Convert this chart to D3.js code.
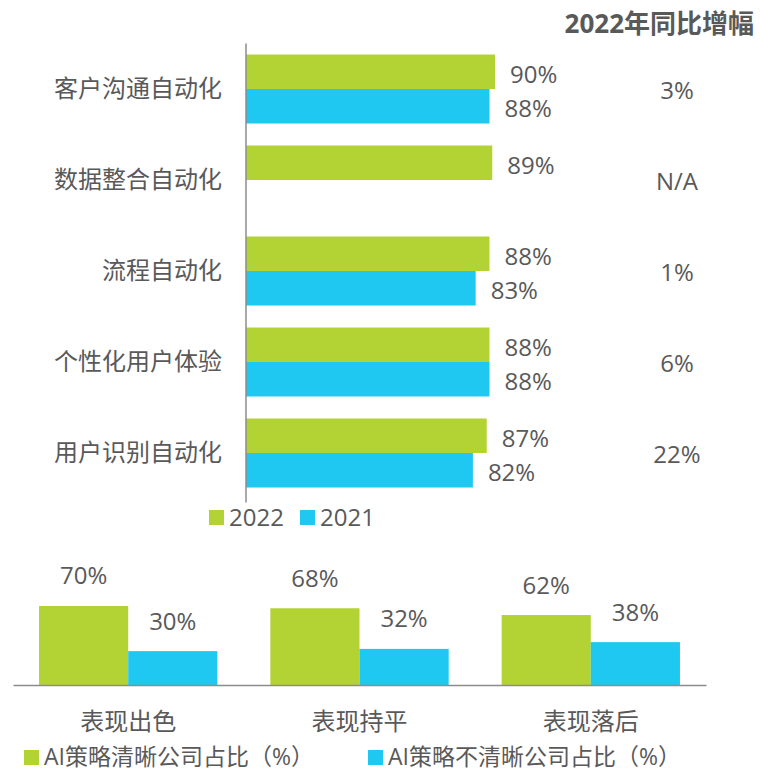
<!DOCTYPE html>
<html><head><meta charset="utf-8">
<script src="https://cdn.jsdelivr.net/npm/d3@7"></script>
<style>
html,body{margin:0;padding:0;background:#fff;}
svg{display:block;font-family:"Open Sans","Noto Sans CJK SC",sans-serif;}
</style></head>
<body><svg id="c" width="760" height="772"></svg>
<script>
// ---- data ----
const categories = ["客户沟通自动化","数据整合自动化","流程自动化","个性化用户体验","用户识别自动化"];
const seriesTop = ["2022","2021"];
const values2022 = [90,89,88,88,87];
const values2021 = [88,null,83,88,82];
const yoyTitle = "2022年同比增幅";
const yoyLabels = ["3%","N/A","1%","6%","22%"];

const groups = ["表现出色","表现持平","表现落后"];
const seriesBottom = ["AI策略清晰公司占比（%）","AI策略不清晰公司占比（%）"];
const clearShare = [70,68,62];
const unclearShare = [30,32,38];

// ---- styles ----
const GREEN = "#B3D335", CYAN = "#1FC8F1", TEXT = "#595959", AXIS = "#8C8C8C";
const colorTop = d3.scaleOrdinal(seriesTop, [GREEN, CYAN]);
const colorBottom = d3.scaleOrdinal(seriesBottom, [GREEN, CYAN]);

const svg = d3.select("#c");

// ===== top horizontal bar chart =====
const x = d3.scaleLinear().domain([0,100]).range([246, 246+276.7]);
const y = d3.scaleBand().domain(categories).range([43.5, 498.5]).paddingInner(0.2418).paddingOuter(0.1209);
const ySub = d3.scaleBand().domain(seriesTop).range([0, y.bandwidth()]);

const topData = [];
categories.forEach((c,i)=>{
  topData.push({cat:c, s:"2022", v:values2022[i]});
  if (values2021[i] != null) topData.push({cat:c, s:"2021", v:values2021[i]});
});

svg.append("g").selectAll("rect").data(topData).join("rect")
  .attr("x", x(0))
  .attr("y", d => y(d.cat) + ySub(d.s))
  .attr("width", d => x(d.v) - x(0))
  .attr("height", ySub.bandwidth())
  .attr("fill", d => colorTop(d.s));

svg.append("g").selectAll("text").data(topData).join("text")
  .attr("x", d => x(d.v) + 15)
  .attr("y", d => y(d.cat) + ySub(d.s) + ySub.bandwidth()/2 + 1.5)
  .attr("dominant-baseline","central")
  .attr("font-size", 24).attr("fill", TEXT)
  .text(d => d.v + "%");

// axis (no ticks)
const yAxis = svg.append("g").attr("transform", `translate(${x(0)},0)`)
  .call(d3.axisLeft(y).tickSize(0).tickPadding(24));
yAxis.select(".domain").attr("stroke", AXIS).attr("stroke-width", 1.5)
  .attr("d", `M0,${y.range()[0]}V${y.range()[1]+4}`);
yAxis.selectAll(".tick text").attr("font-size", 24).attr("fill", TEXT)
  .attr("font-family", "'Noto Sans CJK SC',sans-serif").attr("dy","0.35em");

// yoy column
svg.append("text").attr("x", 754).attr("y", 23).attr("text-anchor","end")
  .attr("dominant-baseline","central").attr("font-size", 26).attr("font-weight", 700)
  .attr("fill", TEXT).text(yoyTitle);
svg.append("g").selectAll("text").data(categories).join("text")
  .attr("x", 677).attr("y", d => y(d) + y.bandwidth()/2)
  .attr("text-anchor","middle").attr("dominant-baseline","central")
  .attr("font-size", 24).attr("fill", TEXT)
  .text((d,i) => yoyLabels[i]);

// top legend
const lgTop = svg.append("g");
const lgTopX = [209, 300];
seriesTop.forEach((s,i)=>{
  lgTop.append("rect").attr("x", lgTopX[i]).attr("y", 510).attr("width", 15).attr("height", 15).attr("fill", colorTop(s));
  lgTop.append("text").attr("x", lgTopX[i]+20).attr("y", 516).attr("dominant-baseline","central")
    .attr("font-size", 24).attr("fill", TEXT).text(s);
});

// ===== bottom grouped column chart =====
const bx = d3.scaleBand().domain(groups).range([13, 706]).paddingInner(0.229).paddingOuter(0.1126);
const bSub = d3.scaleBand().domain(seriesBottom).range([0, bx.bandwidth()]);
const by = d3.scaleLinear().domain([0,100]).range([685, 685-112.86]);

const botData = [];
groups.forEach((g,i)=>{
  botData.push({g, s:seriesBottom[0], v:clearShare[i]});
  botData.push({g, s:seriesBottom[1], v:unclearShare[i]});
});

svg.append("g").selectAll("rect").data(botData).join("rect")
  .attr("x", d => bx(d.g) + bSub(d.s))
  .attr("y", d => by(d.v))
  .attr("width", bSub.bandwidth())
  .attr("height", d => by(0) - by(d.v))
  .attr("fill", d => colorBottom(d.s));

svg.append("g").selectAll("text").data(botData).join("text")
  .attr("x", d => bx(d.g) + bSub(d.s) + bSub.bandwidth()/2)
  .attr("y", d => by(d.v) - 31)
  .attr("text-anchor","middle").attr("dominant-baseline","central")
  .attr("font-size", 24).attr("fill", TEXT)
  .text(d => d.v + "%");

const xAxis = svg.append("g").attr("transform", `translate(0,${by(0)})`)
  .call(d3.axisBottom(bx).tickSize(0).tickPadding(28));
xAxis.select(".domain").attr("stroke", AXIS).attr("stroke-width", 1.5);
xAxis.selectAll(".tick text").attr("font-size", 24).attr("fill", TEXT)
  .attr("font-family", "'Noto Sans CJK SC',sans-serif");

// bottom legend
const lgB = svg.append("g");
const lgBX = [24, 368];
seriesBottom.forEach((s,i)=>{
  lgB.append("rect").attr("x", lgBX[i]).attr("y", 750).attr("width", 15).attr("height", 15).attr("fill", colorBottom(s));
  lgB.append("text").attr("x", lgBX[i]+20).attr("y", 756).attr("dominant-baseline","central")
    .attr("font-size", 23).attr("fill", TEXT).text(s);
});
</script>
</body></html>
